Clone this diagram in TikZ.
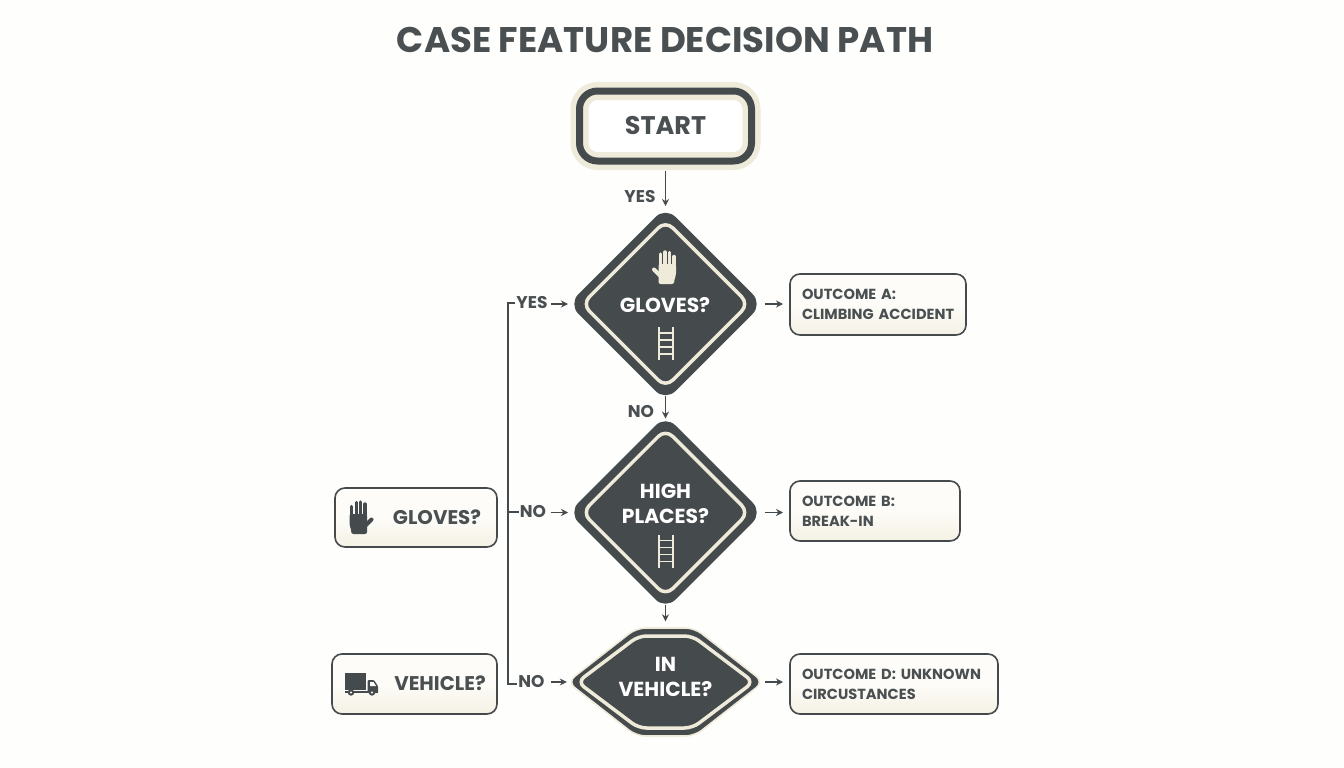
\documentclass[tikz,border=0pt]{standalone}
\usepackage{fontspec}
\setmainfont{Poppins}
\usetikzlibrary{arrows.meta,shapes.geometric,calc}
\definecolor{dk}{HTML}{454A4D}
\definecolor{txt}{HTML}{4A4F51}
\definecolor{cream}{HTML}{EFEBDA}
\definecolor{boxtop}{HTML}{FDFCF8}
\definecolor{boxbot}{HTML}{F4F1E4}
\definecolor{bgc}{HTML}{FEFEFD}
\newcommand{\fs}[2]{\fontsize{#1}{#2}\selectfont\bfseries}
\tikzset{
  conn/.style={draw=dk,line width=1.3pt,-{Stealth[length=7pt,width=7pt]}},
  trunk/.style={draw=dk,line width=1.6pt},
  lab/.style={text=txt,font=\fs{17}{20},inner sep=1pt},
  outerd/.style={diamond,aspect=1,fill=dk,inner sep=0pt,outer sep=0pt,minimum width=194pt,minimum height=194pt,rounded corners=14pt},
  innerd/.style={diamond,aspect=1,draw=cream,line width=3.5pt,inner sep=0pt,minimum width=168pt,minimum height=168pt,rounded corners=10pt},
  dtext/.style={text=white,font=\fs{20.3}{25},align=center,inner sep=0pt},
  sidebox/.style={rectangle,draw=dk,line width=1.6pt,rounded corners=10pt,top color=boxtop,bottom color=boxbot,middle color=boxtop,shading angle=0,inner sep=0pt,outer sep=0pt},
  outbox/.style={sidebox,align=left,text=txt,font=\fs{14.6}{20},anchor=west},
  sidetext/.style={text=txt,font=\fs{19.8}{22},inner sep=0pt},
  pics/hand/.style={code={
    \fill[rounded corners=2pt] (-6,-3)--(11.5,-3)--(11.5,8)--(9.5,14)--(9.5,17)--(-6,17)--(-6,13)--cycle;
    \draw[line width=3.4pt,line cap=round] (-4,0)--(-4,-13);
    \draw[line width=3.4pt,line cap=round] (0.4,0)--(0.4,-15);
    \draw[line width=3.4pt,line cap=round] (4.8,0)--(4.8,-14.5);
    \draw[line width=3.4pt,line cap=round] (9.6,0)--(9.6,-10.5);
    \draw[line width=4pt,line cap=round] (-10.5,2.5)--(-4,9);
  }},
  pics/ladder/.style={code={
    \draw[line width=1.6pt] (-6.8,-16.5)--(-6.8,16.5) (6.8,-16.5)--(6.8,16.5);
    \draw[line width=1.6pt] (-6.8,-10.5)--(6.8,-10.5) (-6.8,-3.5)--(6.8,-3.5) (-6.8,3.5)--(6.8,3.5) (-6.8,10.5)--(6.8,10.5);
  }},
  pics/truck/.style={code={
    \fill (0,0) rectangle (21,17);
    \fill[rounded corners=1pt] (22.5,7)--(29,7)--(33,13)--(33,20)--(22.5,20)--cycle;
    \fill[bgc] (25,9)--(28.5,9)--(31,13)--(25,13)--cycle;
    \fill (0,18)--(33,18)--(33,20)--(0,20)--cycle;
    \fill (6,19.5) circle (3.2pt);
    \fill (27,19.5) circle (3.2pt);
    \fill[bgc] (6,19.5) circle (1.2pt);
    \fill[bgc] (27,19.5) circle (1.2pt);
  }}
}
\begin{document}
\begin{tikzpicture}[x=1pt,y=-1pt]
\useasboundingbox[fill=bgc] (0,0) rectangle (1344,768);

\node[text=txt,font=\fs{35.6}{44},inner sep=0pt] (title) at (665,40) {CASE FEATURE DECISION PATH};

% start
\node[rectangle,minimum width=172pt,minimum height=70pt,rounded corners=18pt,inner sep=0pt,
  preaction={fill=white},preaction={draw=cream,line width=18pt},
  draw=dk,line width=7pt,text=txt,font=\fs{25.5}{30}] (start) at (665.5,126) {START};

% decisions
\node[outerd] (d1) at (665.5,304) {};
\node[innerd] (d1i) at (d1.center) {};
\node[dtext] (t1) at (665,305) {GLOVES?};
\pic[color=cream] at (664.5,267) {hand};
\pic[color=cream] at (666,343.5) {ladder};

\node[outerd] (d2) at (665.5,512.5) {};
\node[innerd] (d2i) at (d2.center) {};
\node[dtext] (t2) at (665.5,503.5) {HIGH\\PLACES?};
\pic[color=cream] at (666,551) {ladder};

\node[rectangle,minimum width=181pt,minimum height=105pt,inner sep=0pt] (d3) at (665.5,682) {};
\draw[cream,fill=dk,line width=1.6pt,rounded corners=9pt]
  ($(d3.center)+(-98,0)$)--($(d3.center)+(-29,-54)$)--($(d3.center)+(29,-54)$)--($(d3.center)+(98,0)$)--($(d3.center)+(29,54)$)--($(d3.center)+(-29,54)$)--cycle;
\draw[cream,line width=3.5pt,rounded corners=8pt]
  ($(d3.center)+(-88,0)$)--($(d3.center)+(-27,-46)$)--($(d3.center)+(27,-46)$)--($(d3.center)+(88,0)$)--($(d3.center)+(27,46)$)--($(d3.center)+(-27,46)$)--cycle;
\node[dtext] (t3) at (665.5,677) {IN\\VEHICLE?};

% outcomes
\node[outbox,minimum width=176pt,minimum height=61pt,text width=152pt,inner xsep=12pt] (oa) at (790,304.5) {OUTCOME A:\\\mbox{CLIMBING ACCIDENT}};
\node[outbox,minimum width=170pt,minimum height=60pt,text width=146pt,inner xsep=12pt] (ob) at (790,511) {OUTCOME B:\\BREAK-IN};
\node[outbox,minimum width=208pt,minimum height=60pt,text width=184pt,inner xsep=12pt] (od) at (790,684) {\mbox{OUTCOME D: UNKNOWN}\\CIRCUSTANCES};

% side boxes
\node[sidebox,minimum width=162pt,minimum height=59pt] (sg) at (416,517.5) {};
\node[sidetext] (sgt) at (437,517) {GLOVES?};
\pic[color=dk,xscale=-1] at (361,517) {hand};
\node[sidebox,minimum width=165pt,minimum height=60pt] (sv) at (414.5,684) {};
\node[sidetext] (svt) at (440,683) {VEHICLE?};
\pic[color=dk] at (345,673) {truck};

% labels
\node[lab] (ly) at (640,197) {YES};
\node[lab] (ln) at (641,412) {NO};
\node[lab] (l1) at (532,303) {YES};
\node[lab] (l2) at (533,512) {NO};
\node[lab] (l3) at (531.5,681) {NO};
\coordinate (tb) at (508,684);

% connectors
\draw[conn,shorten <=6pt,shorten >=1pt] (start.south) -- (d1.north);
\draw[conn,shorten <=-5pt,shorten >=-3pt] (d1.south) -- (d2.north);
\draw[conn,shorten <=-5pt,shorten >=8pt] (d2.south) -- (d3.north);
\draw[conn,shorten <=2pt,shorten >=0.5pt] (l1.east |- d1.west) -- (d1.west);
\draw[conn,shorten <=4pt,shorten >=0.5pt] (l2.east |- d2.west) -- (d2.west);
\draw[conn,shorten <=5pt,shorten >=8pt] (l3.east |- d3.west) -- (d3.west);
\draw[conn,shorten <=2pt,shorten >=7pt] (d1.east) -- (d1.east -| oa.west);
\draw[conn,shorten <=2pt,shorten >=7pt] (d2.east) -- (d2.east -| ob.west);
\draw[conn,shorten <=9pt,shorten >=7pt] (d3.east) -- (d3.east -| od.west);
\draw[trunk] (l1.west) -| (tb) -- (tb -| l3.west);
\draw[trunk] (l2.west) -- (l2.west -| tb);
\end{tikzpicture}
\end{document}
